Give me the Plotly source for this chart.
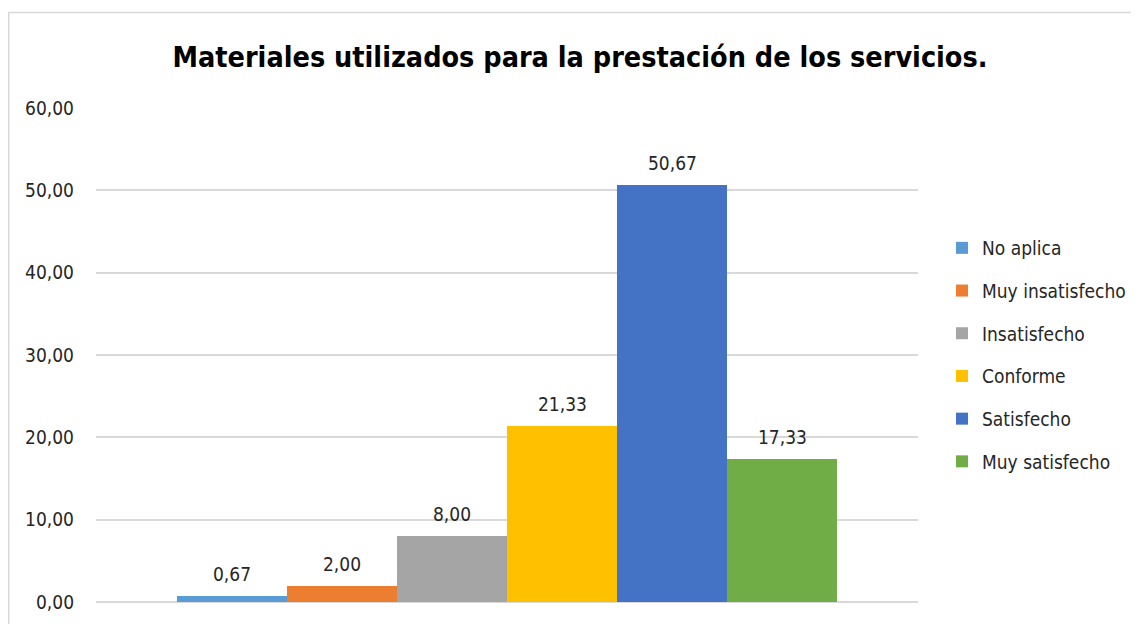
import plotly.graph_objects as go

categories = ["No aplica", "Muy insatisfecho", "Insatisfecho", "Conforme", "Satisfecho", "Muy satisfecho"]
values = [0.67, 2.00, 8.00, 21.33, 50.67, 17.33]
colors = ["#5B9BD5", "#ED7D31", "#A5A5A5", "#FFC000", "#4472C4", "#70AD47"]
title = "Materiales utilizados para la prestación de los servicios."

FONT = "DejaVu Sans Condensed, Liberation Sans, Arial, sans-serif"

fig = go.Figure()
for name, v, c in zip(categories, values, colors):
    fig.add_trace(go.Bar(
        x=[name], y=[v], name=name, legendgroup=name,
        marker=dict(color=c, line=dict(width=0)),
        hoverinfo="skip",
    ))
    fig.add_annotation(x=name, y=v, xref="x", yref="y", text=f"{v:.2f}".replace(".", ","),
                       showarrow=False, yanchor="bottom", yshift=9,
                       font=dict(family=FONT, size=19, color="#262626"))

# figure is placed by the page at an 8px offset; layout coordinates below are page-8
L, R, T, B = 88, 910, 100, 594
W, H = 1131, 616
span = (R - L) / 110.0
mid = (len(categories) - 1) / 2
fig.update_layout(
    width=W, height=H,
    margin=dict(l=L, r=W - R, t=T, b=H - B, autoexpand=False),
    paper_bgcolor="white", plot_bgcolor="white",
    separators=",.",
    barmode="overlay", bargap=0,
    font=dict(family=FONT, size=19, color="#262626"),
    title=dict(text="<b>" + title + "</b>", font=dict(family=FONT, size=28.5, color="black"),
               x=(572 - L) / (R - L), xref="paper", xanchor="center",
               y=1 - 49 / H, yref="container", yanchor="middle"),
    xaxis=dict(type="category", categoryorder="array", categoryarray=categories,
               range=[mid - span / 2, mid + span / 2],
               showticklabels=False, showgrid=False, zeroline=False, showline=False, ticks=""),
    yaxis=dict(range=[0, 60], dtick=10, tickformat=".2f", showgrid=True, gridcolor="#d9d9d9",
               gridwidth=1.5, zeroline=True, zerolinecolor="#d9d9d9", zerolinewidth=1.5,
               showline=False, ticks="", ticklabelstandoff=21,
               tickfont=dict(family=FONT, size=19, color="#262626")),
    legend=dict(x=(934 - L) / (R - L), xanchor="left", y=0.5, yanchor="middle",
                font=dict(family=FONT, size=19, color="#262626"),
                tracegroupgap=15, traceorder="grouped", bgcolor="rgba(0,0,0,0)"),
    showlegend=True,
)
fig.add_shape(type="rect", xref="paper", yref="paper",
              x0=(0.75 - L) / (R - L), x1=(W + 20 - L) / (R - L),
              y0=(B - (H + 20)) / (B - T), y1=(B - 4.5) / (B - T),
              line=dict(color="#d9d9d9", width=1.5), fillcolor="rgba(0,0,0,0)", layer="below")
fig.write_html("out.html")
